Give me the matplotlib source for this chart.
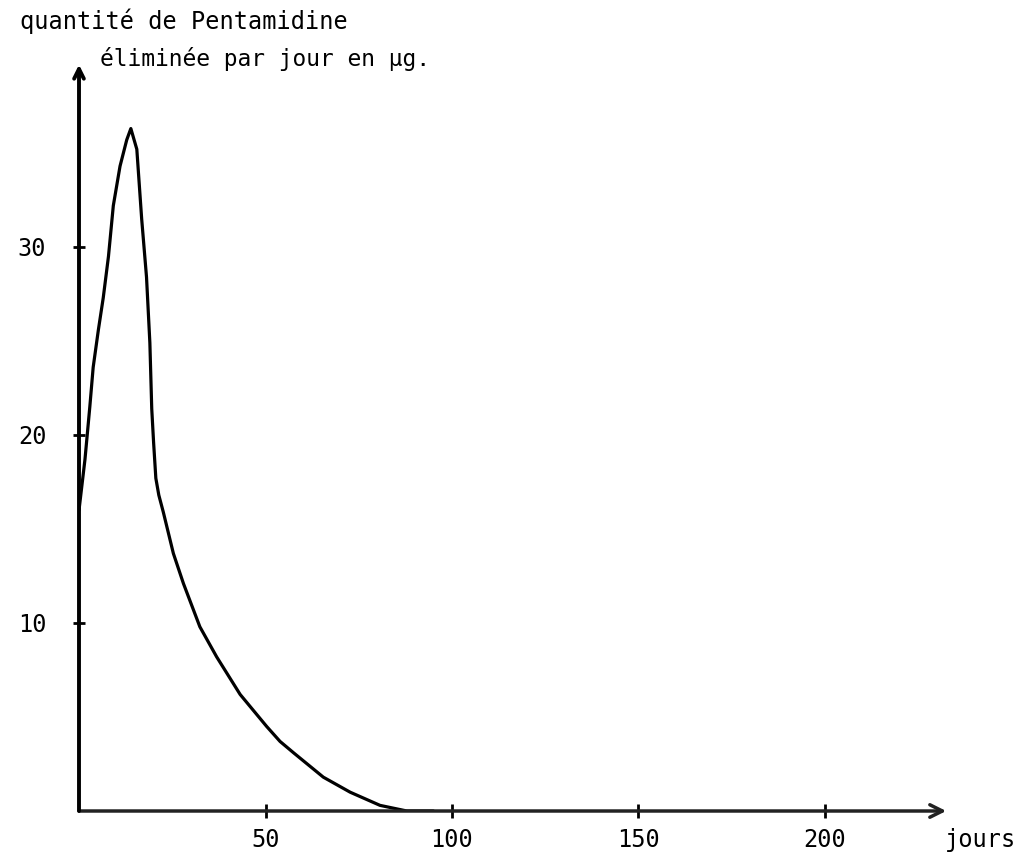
import matplotlib.pyplot as plt

#---------- Data ----------#

jours = [0, 1.6, 2.9, 3.8, 5.2, 6.5, 7.9, 9.2, 11.0, 12.8, 13.9, 15.5, 16.8,
         18.1, 19.0, 19.5, 20.0, 20.6, 21.4, 22.6, 25.3, 28.0, 32.4, 36.9,
         43.2, 50.3, 53.9, 57.5, 65.5, 72.7, 80.7, 87.9, 95]
quantite = [16.0, 18.7, 21.5, 23.6, 25.6, 27.3, 29.5, 32.2, 34.3, 35.7, 36.3,
            35.2, 31.5, 28.4, 24.9, 21.4, 19.6, 17.7, 16.8, 15.9, 13.7, 12.1,
            9.8, 8.2, 6.2, 4.5, 3.7, 3.1, 1.8, 1.0, 0.3, 0.0, 0.0]

x_ticks = [50, 100, 150, 200]
y_ticks = [10, 20, 30]

title1 = "quantité de Pentamidine"
title2 = "éliminée par jour en μg."
x_name = "jours"

plt.rcParams['font.family'] = ['DejaVu Sans Mono', 'DejaVu Sans']

#---------- Figure ----------#

W, H = 1019, 855
fig = plt.figure(figsize=(W / 100, H / 100), dpi=100)

# axes: origin at pixel (79, 811)
x0, y0, x1, y1 = 79, 811, 965, 40
ax = fig.add_axes([x0 / W, (H - y0) / H, (x1 - x0) / W, (y0 - y1) / H])
ax.set_xlim(0, (x1 - x0) / 3.73)
ax.set_ylim(0, (y0 - y1) / 18.8)

for s in ax.spines.values():
    s.set_visible(False)

ax.plot(jours, quantite, color='black', lw=2.3, solid_joinstyle='round',
        solid_capstyle='round')

# axis arrows
ax.annotate("", xy=(232.5, 0), xytext=(0, 0),
            arrowprops=dict(arrowstyle='->,head_length=0.9,head_width=0.45',
                            lw=2.5, color='#222222', shrinkA=0, shrinkB=0),
            annotation_clip=False)
ax.annotate("", xy=(0, 39.7), xytext=(0, 0),
            arrowprops=dict(arrowstyle='->,head_length=0.7,head_width=0.35',
                            lw=2.8, color='black', shrinkA=0, shrinkB=0),
            annotation_clip=False)

ax.set_xticks(x_ticks)
ax.set_yticks(y_ticks)
ax.set_xticklabels([str(t) for t in x_ticks], fontsize=17)
ax.set_yticklabels([str(t) for t in y_ticks], fontsize=17)
ax.tick_params(axis='x', direction='inout', length=10, width=2, pad=7)
ax.tick_params(axis='y', direction='inout', length=9, width=2, pad=19)

ax.text(251.3, -1.55, x_name, fontsize=17, ha='right', va='center',
        clip_on=False)

fig.text(20 / W, 1 - 21 / H, title1, fontsize=17, ha='left', va='center')
fig.text(100 / W, 1 - 59 / H, title2, fontsize=16.5, ha='left', va='center')

plt.savefig("out.png", dpi=100)
